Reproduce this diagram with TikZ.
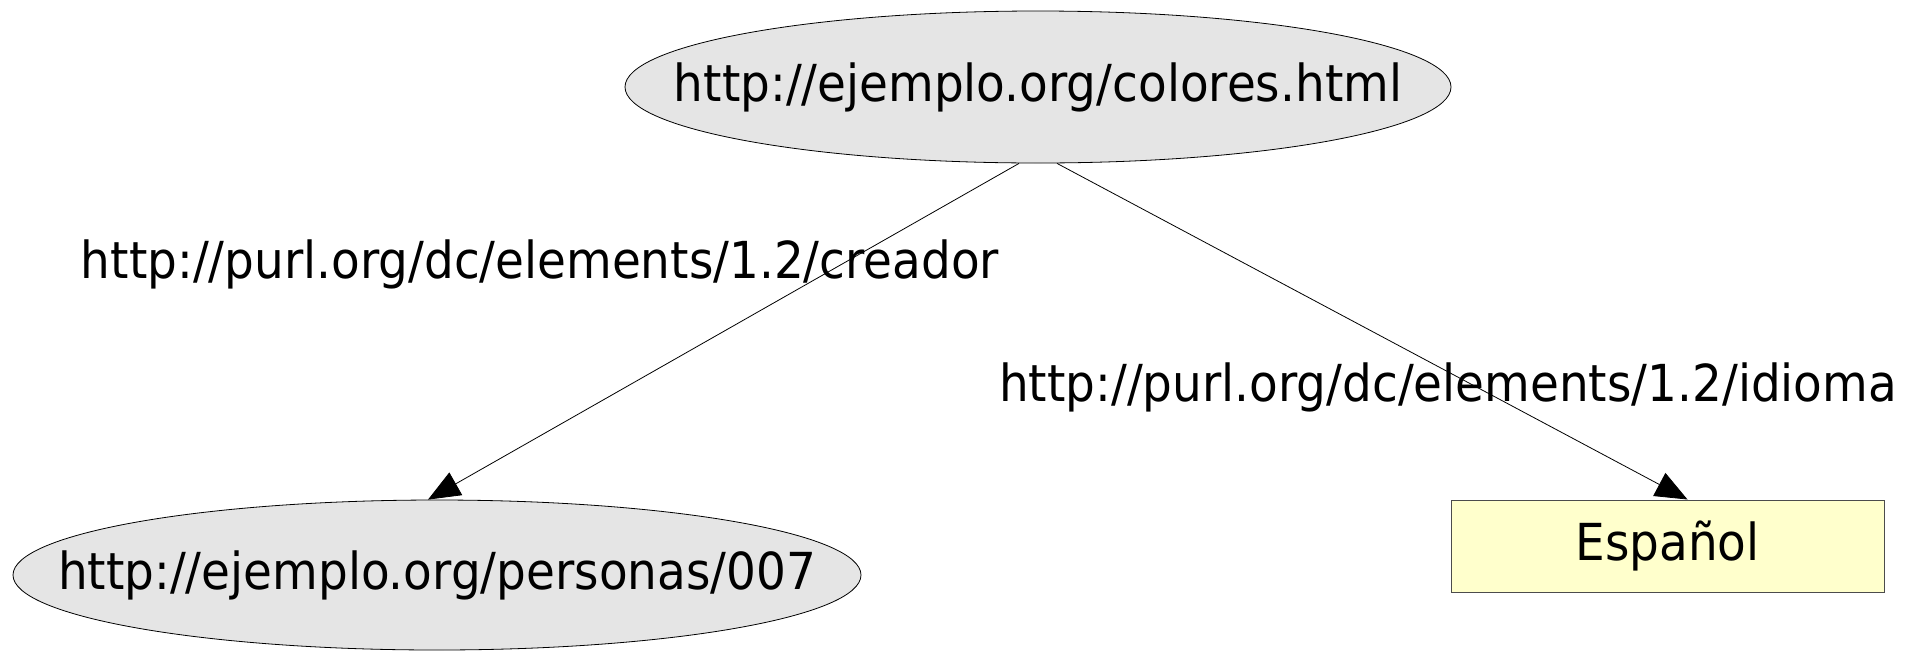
\documentclass[tikz,border=0pt]{standalone}
\usepackage{fontspec}
\setmainfont{DejaVu Sans}[FakeStretch=0.92]
\usetikzlibrary{shapes.geometric,arrows.meta}

\definecolor{recurso}{HTML}{E5E5E5}
\definecolor{literal}{HTML}{FFFFCC}

\tikzset{
  recnode/.style={ellipse,draw=black,line width=0.8pt,fill=recurso,
    inner xsep=-200pt,inner ysep=-40pt},
  litnode/.style={rectangle,draw=black!70,line width=1pt,fill=literal,
    inner sep=0pt,minimum width=433pt,minimum height=92pt},
  propnode/.style={inner sep=0pt},
  edge/.style={line width=0.8pt,-{Triangle[length=32pt,width=26pt]}}
}

\begin{document}
\begin{tikzpicture}[x=1pt,y=-1pt,font=\fontsize{51}{60}\selectfont]
  \useasboundingbox (0,0) rectangle (1918,651);

  \node[recnode,minimum width=826pt,minimum height=152pt] (colores) at (1038,87) {http://ejemplo.org/colores.html};
  \node[recnode,minimum width=848pt,minimum height=150pt] (persona) at (437,575) {http://ejemplo.org/personas/007};
  \node[litnode] (espanol) at (1667.5,546) {Español};

  \node[propnode] (creador) at (540,264) {http://purl.org/dc/elements/1.2/creador};
  \node[propnode] (idioma) at (1448,387) {http://purl.org/dc/elements/1.2/idioma};

  \draw[edge] ([xshift=-19pt]colores.south) -- ([xshift=-9pt]persona.north);
  \draw[edge] ([xshift=19pt]colores.south) -- ([xshift=20pt]espanol.north);

\end{tikzpicture}
\end{document}
